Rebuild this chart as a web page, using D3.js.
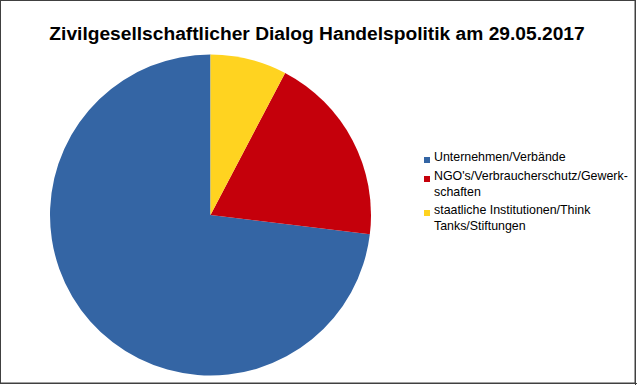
<!DOCTYPE html>
<html><head><meta charset="utf-8">
<script src="https://cdn.jsdelivr.net/npm/d3@7"></script>
<style>html,body{margin:0;padding:0;background:#fff;}svg{display:block;}</style>
</head><body>
<script>
const title = "Zivilgesellschaftlicher Dialog Handelspolitik am 29.05.2017";
const categories = ["Unternehmen/Verbände", "NGO's/Verbraucherschutz/Gewerk-schaften", "staatliche Institutionen/Think Tanks/Stiftungen"];
const legendLines = [["Unternehmen/Verbände"], ["NGO's/Verbraucherschutz/Gewerk-", "schaften"], ["staatliche Institutionen/Think", "Tanks/Stiftungen"]];
const values = [38, 10, 4];
const colors = ["#3465a4", "#c5000b", "#ffd320"];

const W = 637, H = 385;
const svg = d3.select("body").append("svg").attr("width", W).attr("height", H);
svg.append("rect").attr("x",0).attr("y",0).attr("width",W).attr("height",H).attr("fill","#fff");
// border
svg.append("rect").attr("x",0.5).attr("y",0.5).attr("width",W-2.5).attr("height",H-2.5)
  .attr("fill","none").attr("stroke","#404040").attr("stroke-width",1);
svg.append("line").attr("x1",W-1.5).attr("x2",W-1.5).attr("y1",0).attr("y2",H).attr("stroke","#404040").attr("stroke-width",1);
svg.append("line").attr("x1",0).attr("x2",W).attr("y1",H-1.5).attr("y2",H-1.5).attr("stroke","#404040").attr("stroke-width",1);

svg.append("text").attr("x", 317).attr("y", 40).attr("text-anchor","middle")
  .attr("font-family","'Liberation Sans', Arial, sans-serif").attr("font-weight","bold")
  .attr("font-size", 19.2).attr("fill","#000").text(title);

const cx = 210.5, cy = 215, r = 160.5;
const pie = d3.pie().sort(null).value(d => d).startAngle(2*Math.PI).endAngle(0);
const arc = d3.arc().innerRadius(0).outerRadius(r);
const color = d3.scaleOrdinal().domain(d3.range(values.length)).range(colors);
svg.append("g").attr("transform",`translate(${cx},${cy})`)
  .selectAll("path").data(pie(values)).join("path")
  .attr("d", arc).attr("fill", (d,i) => color(i));

const lg = svg.append("g").attr("font-family","'Liberation Sans', Arial, sans-serif").attr("font-size",12.4).attr("fill","#000");
const baselines = [161, 180, 214];
legendLines.forEach((lines, i) => {
  lg.append("rect").attr("x",424).attr("y",baselines[i]-4).attr("width",6).attr("height",6).attr("fill",color(i));
  lines.forEach((t, j) => {
    lg.append("text").attr("x",434).attr("y",baselines[i] + j*15.5).text(t);
  });
});
</script>
</body></html>
